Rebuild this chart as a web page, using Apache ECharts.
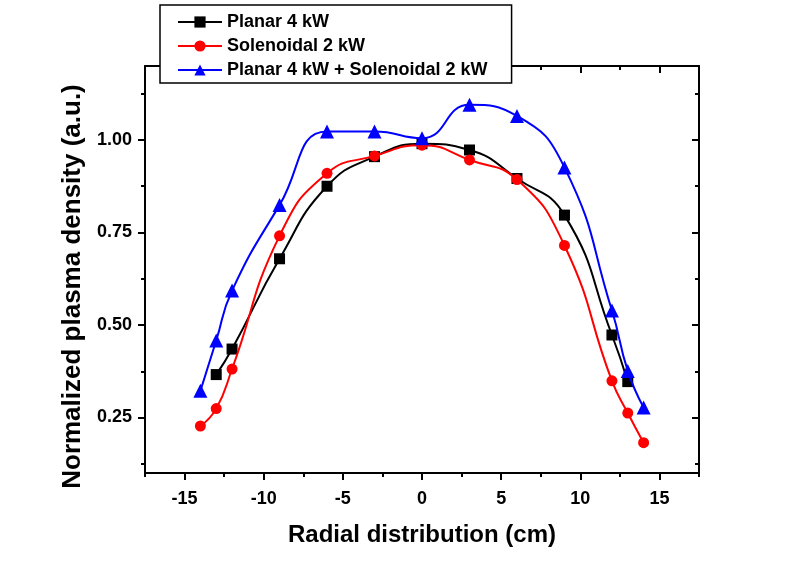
<!DOCTYPE html>
<html>
<head>
<meta charset="utf-8">
<script src="https://cdn.jsdelivr.net/npm/echarts@6/dist/echarts.min.js"></script>
<style>
html,body{margin:0;padding:0;background:#fff;}
#c{width:812px;height:567px;}
</style>
</head>
<body>
<div id="c"></div>
<script>
var planarX = [-13, -12, -9, -6, -3, 0, 3, 6, 9, 12, 13];
var planarY = [0.366, 0.435, 0.679, 0.875, 0.955, 0.990, 0.973, 0.896, 0.797, 0.473, 0.347];
var solenoidX = [-14, -13, -12, -9, -6, -3, 0, 3, 6, 9, 12, 13, 14];
var solenoidY = [0.227, 0.274, 0.381, 0.741, 0.910, 0.957, 0.986, 0.946, 0.893, 0.715, 0.349, 0.262, 0.182];
var comboX = [-14, -13, -12, -9, -6, -3, 0, 3, 6, 9, 12, 13, 14];
var comboY = [0.322, 0.458, 0.593, 0.824, 1.023, 1.023, 1.005, 1.095, 1.065, 0.926, 0.539, 0.376, 0.277];
var seriesNames = ['Planar 4 kW', 'Solenoidal 2 kW', 'Planar 4 kW + Solenoidal 2 kW'];
var xMajor = [-15, -10, -5, 0, 5, 10, 15];
var xMinor = [-17.5, -12.5, -7.5, -2.5, 2.5, 7.5, 12.5, 17.5];
var yMajor = [0.25, 0.50, 0.75, 1.00];
var yMinor = [0.125, 0.375, 0.625, 0.875, 1.125];

function zip(xs, ys) { return xs.map(function (x, i) { return [x, ys[i]]; }); }

var FONT = '"Liberation Sans", Arial, sans-serif';
var XMIN = -17.5, XMAX = 17.5, YMIN = 0.1, YMAX = 1.2;

function xAx(pos, values, len, inside, showLine, labels) {
  return {
    type: 'value', position: pos, min: XMIN, max: XMAX,
    splitLine: { show: false },
    axisLine: { show: showLine, onZero: false, lineStyle: { color: '#000', width: 2 } },
    axisTick: { show: true, inside: inside, length: len, customValues: values, lineStyle: { color: '#000', width: 2 } },
    axisLabel: labels ? { show: true, customValues: values, margin: 17, color: '#000', fontFamily: FONT, fontWeight: 'bold', fontSize: 18,
      formatter: function (v) { return String(v); } } : { show: false },
    name: labels ? 'Radial distribution (cm)' : '',
    nameLocation: 'middle', nameGap: 50,
    nameTextStyle: { color: '#000', fontFamily: FONT, fontWeight: 'bold', fontSize: 24 }
  };
}
function yAx(pos, values, len, inside, showLine, labels) {
  return {
    type: 'value', position: pos, min: YMIN, max: YMAX,
    splitLine: { show: false },
    axisLine: { show: showLine, onZero: false, lineStyle: { color: '#000', width: 2 } },
    axisTick: { show: true, inside: inside, length: len, customValues: values, lineStyle: { color: '#000', width: 2 } },
    axisLabel: labels ? { show: true, customValues: values, margin: 13, color: '#000', fontFamily: FONT, fontWeight: 'bold', fontSize: 18,
      formatter: function (v) { return v.toFixed(2); } } : { show: false },
    name: labels ? 'Normalized plasma density (a.u.)' : '',
    nameLocation: 'middle', nameGap: 54, nameRotate: 90,
    nameTextStyle: { color: '#000', fontFamily: FONT, fontWeight: 'bold', fontSize: 26, padding: [0, 34, 0, 0] }
  };
}

var option = {
  backgroundColor: '#fff',
  animation: false,
  grid: { left: 145, right: 113, top: 66, bottom: 94, show: false },
  legend: {
    show: true, left: 160, top: 5, orient: 'vertical',
    backgroundColor: '#fff', borderColor: '#000', borderWidth: 1.5,
    padding: [8, 24, 4, 17], itemGap: 6, itemWidth: 44, itemHeight: 14,
    textStyle: { color: '#000', fontFamily: FONT, fontWeight: 'bold', fontSize: 18, lineHeight: 18 },
    data: seriesNames
  },
  xAxis: [
    xAx('bottom', xMajor, 7, false, true, true),
    xAx('bottom', xMinor, 4, false, false, false),
    xAx('top', xMajor, 7, true, true, false),
    xAx('top', xMinor, 4, true, false, false)
  ],
  yAxis: [
    yAx('left', yMajor, 7, false, true, true),
    yAx('left', yMinor, 4, false, false, false),
    yAx('right', yMajor, 7, true, true, false),
    yAx('right', yMinor, 4, true, false, false)
  ],
  series: [
    { name: seriesNames[0], type: 'line', data: zip(planarX, planarY), smooth: 0.5,
      symbol: 'rect', symbolSize: 11, itemStyle: { color: '#000' }, lineStyle: { color: '#000', width: 2 }, z: 3 },
    { name: seriesNames[1], type: 'line', data: zip(solenoidX, solenoidY), smooth: 0.5,
      symbol: 'circle', symbolSize: 11, itemStyle: { color: '#ff0000' }, lineStyle: { color: '#ff0000', width: 2 }, z: 4 },
    { name: seriesNames[2], type: 'line', data: zip(comboX, comboY), smooth: 0.5,
      symbol: 'triangle', symbolSize: 14, itemStyle: { color: '#0000ff' }, lineStyle: { color: '#0000ff', width: 2 }, z: 5 }
  ]
};
var chart = echarts.init(document.getElementById('c'), null, { renderer: 'canvas' });
chart.setOption(option);
</script>
</body>
</html>
